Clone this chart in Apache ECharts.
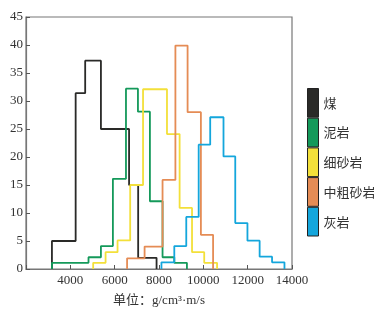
<!DOCTYPE html>
<html>
<head>
<meta charset="utf-8">
<script src="https://cdn.jsdelivr.net/npm/echarts@6/dist/echarts.min.js"></script>
<style>
html,body{margin:0;padding:0;background:#fff;}
#c{width:374px;height:312px;}
</style>
</head>
<body>
<div id="c"></div>
<script>
// Series names (legend order)
var seriesNames = ['煤', '泥岩', '细砂岩', '中粗砂岩', '灰岩'];
// Histogram bin edges (g/cm³·m/s) and heights for each lithology
var coalEdges = [3170, 4240, 4670, 5380, 6650, 7060, 7890];
var coalHeights = [5, 31.4, 37.2, 25, 15, 2];
var mudEdges = [3170, 4820, 5380, 5920, 6510, 7050, 7590, 8160, 8690, 9260];
var mudHeights = [1.1, 2.1, 4.1, 16.1, 32.2, 28.1, 12.1, 2.1, 1.1];
var fineEdges = [5030, 5590, 6130, 6700, 7280, 8360, 8930, 9490, 10040, 10620];
var fineHeights = [1.1, 3.0, 5.1, 15, 32.1, 24.1, 10.9, 3.0, 1.1];
var coarseEdges = [6560, 7350, 8160, 8740, 9290, 9890, 10440];
var coarseHeights = [1.9, 4, 15.9, 39.9, 28, 6.1];
var limeEdges = [8110, 8690, 9230, 9790, 10310, 10910, 11440, 11990, 12540, 13100, 13660];
var limeHeights = [1.2, 4.1, 9.3, 22.2, 27.1, 20.1, 8.2, 5.05, 2.2, 1.2];
// Axis ticks
var xTicks = [4000, 6000, 8000, 10000, 12000, 14000];
var yTicks = [0, 5, 10, 15, 20, 25, 30, 35, 40, 45];

var colors = ['#2a2a28', '#14995a', '#f3e03a', '#e58c55', '#14a6dc'];

function stepData(edges, heights) {
  var d = [[edges[0], 0]];
  for (var i = 0; i < heights.length; i++) d.push([edges[i], heights[i]]);
  d.push([edges[edges.length - 1], 0]);
  return d;
}
var allEdges = [coalEdges, mudEdges, fineEdges, coarseEdges, limeEdges];
var allHeights = [coalHeights, mudHeights, fineHeights, coarseHeights, limeHeights];

var serif = '"Liberation Serif", "Times New Roman", "Noto Sans CJK SC", serif';
var series = seriesNames.map(function (n, i) {
  return {
    name: n,
    type: 'line',
    step: 'end',
    symbol: 'none',
    data: stepData(allEdges[i], allHeights[i]),
    color: colors[i],
    itemStyle: {color: colors[i]},
    lineStyle: {color: colors[i], width: 1.8},
    animation: false
  };
});

var chart = echarts.init(document.getElementById('c'), null, {renderer: 'canvas'});
chart.setOption({
  backgroundColor: '#fff',
  animation: false,
  grid: {left: 26, top: 17, right: 82, bottom: 39, show: true, borderColor: '#777', borderWidth: 1.2, backgroundColor: 'transparent'},
  legend: {
    orient: 'vertical',
    left: 302,
    top: 83,
    itemWidth: 11,
    itemHeight: 28.7,
    itemGap: 0,
    icon: 'rect',
    selectedMode: false,
    data: seriesNames,
    itemStyle: {borderColor: '#222', borderWidth: 1},
    textStyle: {fontSize: 13, color: '#333', fontFamily: '"Noto Sans CJK SC", sans-serif'}
  },
  xAxis: {
    type: 'value',
    min: 2000,
    max: 14000,
    interval: 2000,
    name: '单位：g/cm³·m/s',
    nameLocation: 'middle',
    nameGap: 25,
    nameTextStyle: {fontSize: 13, color: '#333', fontFamily: serif},
    axisLine: {lineStyle: {color: '#777', width: 1.2}},
    axisTick: {inside: true, length: 4, lineStyle: {color: '#555'}},
    axisLabel: {
      fontSize: 13, color: '#333', fontFamily: serif, margin: 5,
      formatter: function (v) { return xTicks.indexOf(v) >= 0 ? String(v) : ''; }
    },
    splitLine: {show: false}
  },
  yAxis: {
    type: 'value',
    min: 0,
    max: 45,
    interval: 5,
    axisLine: {show: true, lineStyle: {color: '#777', width: 1.2}},
    axisTick: {show: true, inside: true, length: 4, lineStyle: {color: '#555'}},
    axisLabel: {
      fontSize: 13, color: '#333', fontFamily: serif, margin: 3,
      formatter: function (v) { return yTicks.indexOf(v) >= 0 ? String(v) : ''; }
    },
    splitLine: {show: false}
  },
  series: series
});
</script>
</body>
</html>
